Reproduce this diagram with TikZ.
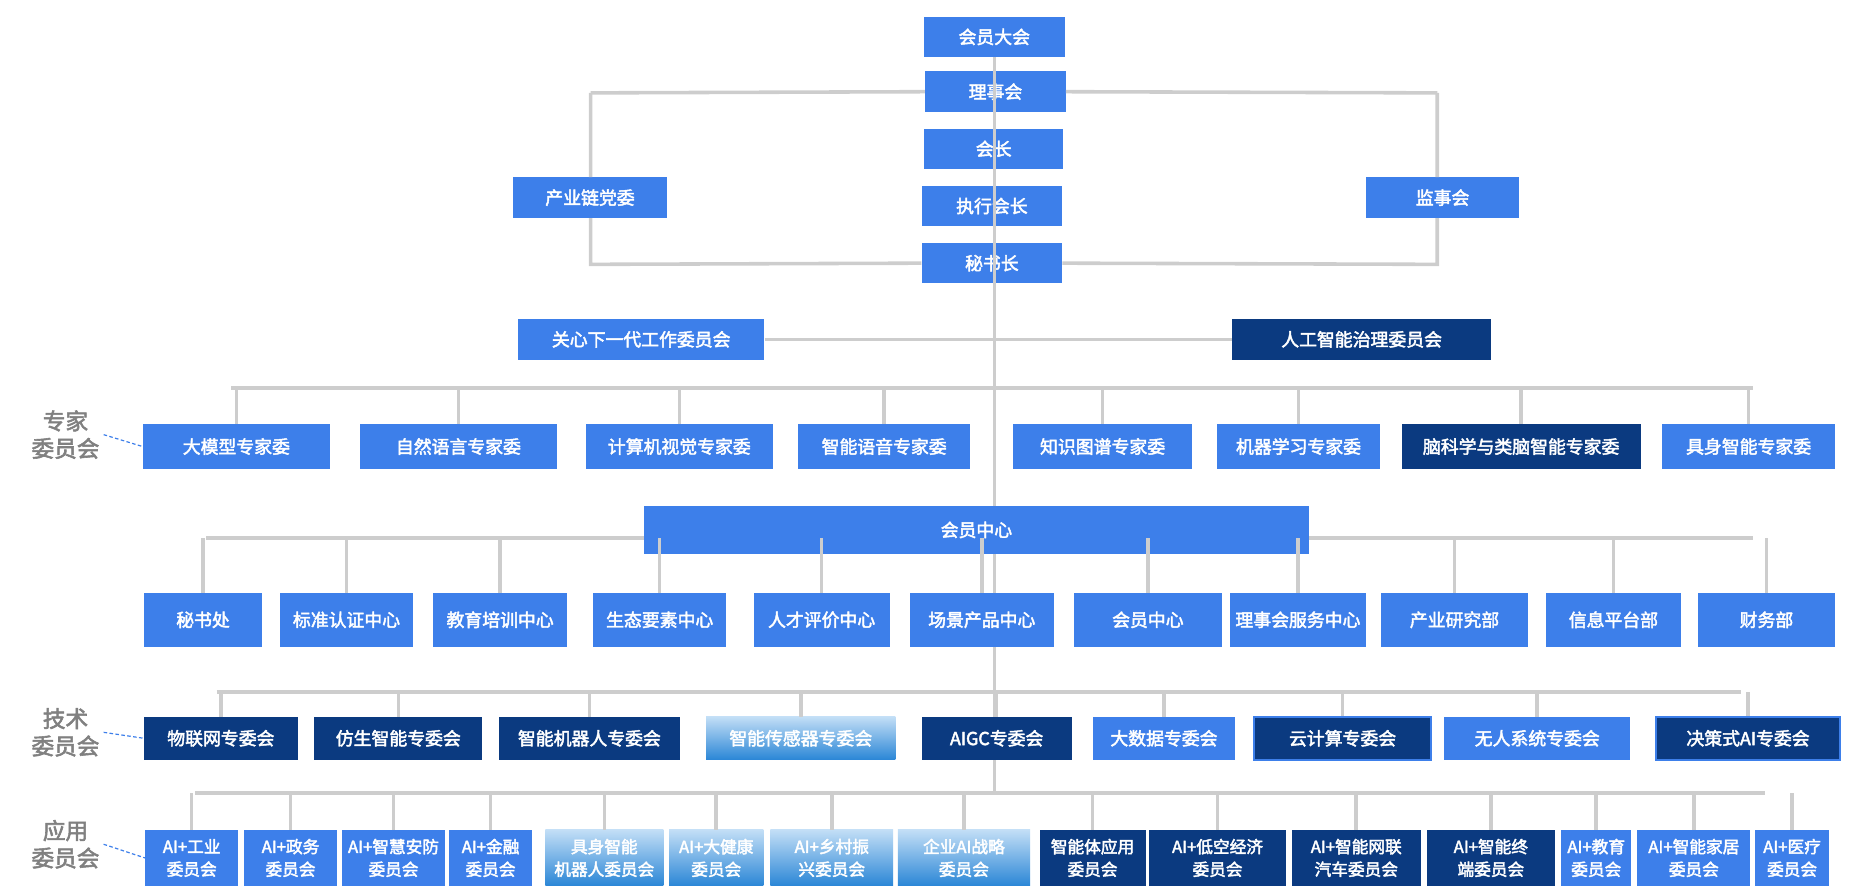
\documentclass[tikz,border=0pt]{standalone}
\usepackage{fontspec}
\setmainfont{Noto Sans CJK SC}[AutoFakeBold=2.5]
\usetikzlibrary{positioning}
\definecolor{boxblue}{HTML}{3D7FEA}
\definecolor{boxnavy}{HTML}{0B3A80}
\definecolor{gradtop}{HTML}{C2DEF6}
\definecolor{gradbot}{HTML}{2A86D6}
\definecolor{linegray}{HTML}{CDCDCD}
\definecolor{labgray}{HTML}{808080}
\tikzset{
  box/.style={draw=none, inner sep=0pt, text=white, align=center,
    font=\fontsize{15}{18}\selectfont\bfseries},
  blue box/.style={box, fill=boxblue},
  navy box/.style={box, fill=boxnavy},
  rim box/.style={box, fill=boxnavy, draw=boxblue, line width=1.5pt},
  grad box/.style={box, top color=gradtop, bottom color=gradbot},
  bus/.style={draw=linegray, line width=3pt},
  side label/.style={text=labgray, align=center, font=\fontsize{19}{23}\selectfont\bfseries},
  dash link/.style={draw=boxblue, densely dashed, line width=1pt}
}
% box from corners: name, x1, y1, x2, y2, style, text
\newcommand{\orgbox}[7]{%
  \pgfmathsetmacro{\bw}{#4-#2}\pgfmathsetmacro{\bh}{#5-#3}%
  \node[#6, minimum width=\bw pt, minimum height=\bh pt, text width=\bw pt-4pt]
    (#1) at ({(#2+#4)/2},{(#3+#5)/2}) {#7};}
\begin{document}
\begin{tikzpicture}[x=1pt, y=-1pt]
    \useasboundingbox (0,0) rectangle (1557,748);

    % Top chain
    \orgbox{hy}{776}{14}{894}{48}{blue box}{会员大会}
    \orgbox{lsh}{777}{60}{895}{94}{blue box}{理事会}
    \orgbox{hz}{776}{108}{893}{142}{blue box}{会长}
    \orgbox{zxhz}{774}{156}{892}{190}{blue box}{执行会长}
    \orgbox{msz}{774}{204}{892}{238}{blue box}{秘书长}
    \orgbox{dw}{431}{149}{560}{183}{blue box}{产业链党委}
    \orgbox{jsh}{1147}{149}{1276}{183}{blue box}{监事会}

    \coordinate (spine-end) at (835,666);
    \coordinate (loop-l) at (496,78);
    \coordinate (loop-r) at (1207,78);
    \coordinate (loopb-l) at (496,222);
    \coordinate (loopb-r) at (1207,222);
    \begin{scope}[on background layer/.try]
    \end{scope}
    \draw[bus] (loop-l) -- (lsh.west) (lsh.east) -- (loop-r);
    \draw[bus] (loop-l) -- (dw.north -| loop-l) (dw.south -| loop-l) -- (loopb-l) -- (msz.west);
    \draw[bus] (loop-r) -- (jsh.north -| loop-r) (jsh.south -| loop-r) -- (loopb-r) -- (msz.east);
    \draw[bus] (hy.south -| spine-end) -- (spine-end);

    % Care and governance committees
    \orgbox{gx}{435}{268}{642}{302}{blue box}{关心下一代工作委员会}
    \orgbox{zl}{1035}{268}{1252}{302}{navy box}{人工智能治理委员会}
    \draw[bus] (gx.east) -- (zl.west);

    % Expert committees
    \coordinate (bus-e-l) at (194,326);
    \coordinate (bus-e-r) at (1472,326);
    \draw[bus] (bus-e-l) -- (bus-e-r);
    \foreach \name/\xa/\xb/\sty/\txt in {
        e1/120/277/blue box/大模型专家委, e2/302/468/blue box/自然语言专家委,
        e3/492/649/blue box/计算机视觉专家委, e4/670/815/blue box/智能语音专家委,
        e5/851/1001/blue box/知识图谱专家委, e6/1022/1159/blue box/机器学习专家委,
        e7/1177/1378/navy box/脑科学与类脑智能专家委, e8/1396/1541/blue box/具身智能专家委} {
        \orgbox{\name}{\xa}{356}{\xb}{394}{\sty}{\txt}
        \draw[bus] (\name.north) -- (\name.north |- bus-e-l);
    }
    \node[side label] (lab-e) at (55,365) {专家\\委员会};
    \draw[dash link] (lab-e.east) -- (e1.west);

    % Member center and departments
    \coordinate (bus-d-l) at (173,452);
    \coordinate (bus-d-r) at (1472,452);
    \draw[bus] (bus-d-l) -- (bus-d-r);
    \orgbox{hyzx}{541}{425}{1099}{465}{blue box}{会员中心}
    \foreach \name/\xa/\xb/\txt in {
        d1/121/220/秘书处, d2/235/347/标准认证中心, d3/364/476/教育培训中心,
        d4/498/610/生态要素中心, d5/633/747/人才评价中心, d6/764/885/场景产品中心,
        d7/902/1026/会员中心, d8/1033/1147/理事会服务中心, d9/1160/1283/产业研究部,
        d10/1298/1412/信息平台部, d11/1426/1541/财务部} {
        \orgbox{\name}{\xa}{498}{\xb}{543}{blue box}{\txt}
        \draw[bus] (\name.north) -- (\name.north |- bus-d-l);
    }

    % Technical committees
    \coordinate (bus-t-l) at (182,581);
    \coordinate (bus-t-r) at (1462,581);
    \draw[bus] (bus-t-l) -- (bus-t-r);
    \foreach \name/\xa/\xb/\sty/\txt in {
        t1/121/250/navy box/物联网专委会, t2/264/405/navy box/仿生智能专委会,
        t3/419/571/navy box/智能机器人专委会, t4/593/752/grad box/智能传感器专委会,
        t5/774/900/navy box/AIGC专委会, t6/918/1037/blue box/大数据专委会,
        t7/1053/1202/rim box/云计算专委会, t8/1213/1369/blue box/无人系统专委会,
        t9/1391/1545/rim box/决策式AI专委会} {
        \orgbox{\name}{\xa}{602}{\xb}{638}{\sty}{\txt}
        \draw[bus] (\name.north) -- (\name.north |- bus-t-l);
    }
    \node[side label] (lab-t) at (55,615) {技术\\委员会};
    \draw[dash link] (lab-t.east) -- (t1.west);

    % Application committees
    \coordinate (bus-a-l) at (164,666);
    \coordinate (bus-a-r) at (1482,666);
    \draw[bus] (bus-a-l) -- (bus-a-r);
    \foreach \name/\xa/\xb/\sty/\txt in {
        a1/122/200/blue box/AI+工业\\委员会, a2/205/283/blue box/AI+政务\\委员会,
        a3/287/374/blue box/AI+智慧安防\\委员会, a4/377/447/blue box/AI+金融\\委员会,
        a5/458/557/grad box/具身智能\\机器人委员会, a6/562/641/grad box/AI+大健康\\委员会,
        a7/647/750/grad box/AI+乡村振\\兴委员会, a8/754/865/grad box/企业AI战略\\委员会,
        a9/873/962/navy box/智能体应用\\委员会, a10/965/1080/navy box/AI+低空经济\\委员会,
        a11/1085/1193/navy box/AI+智能网联\\汽车委员会, a12/1198/1306/navy box/AI+智能终\\端委员会,
        a13/1311/1370/blue box/AI+教育\\委员会, a14/1375/1470/blue box/AI+智能家居\\委员会,
        a15/1474/1536/blue box/AI+医疗\\委员会} {
        \orgbox{\name}{\xa}{697}{\xb}{744}{\sty,font=\fontsize{14}{19}\selectfont\bfseries}{\txt}
        \draw[bus] (\name.north) -- (\name.north |- bus-a-l);
    }
    \node[side label] (lab-a) at (55,709) {应用\\委员会};
    \draw[dash link] (lab-a.east) -- (a1.west);
\end{tikzpicture}
\end{document}
